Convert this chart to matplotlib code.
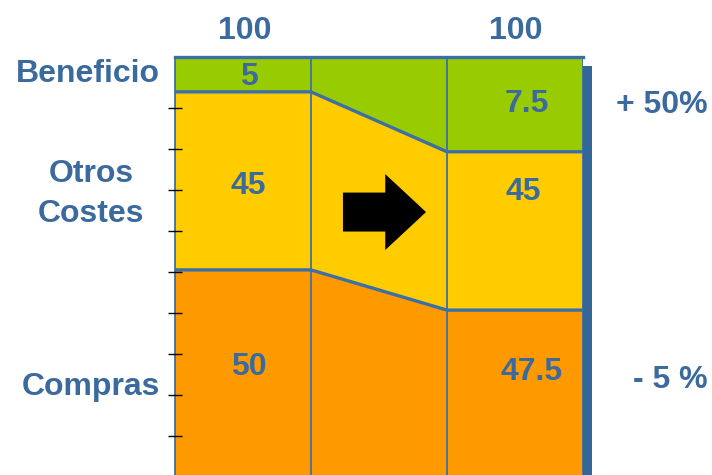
import matplotlib
matplotlib.use("Agg")
import matplotlib.pyplot as plt
import numpy as np

# values shown on the chart (bottom -> top: Compras, Otros Costes, Beneficio)
layers = ["Compras", "Otros\nCostes", "Beneficio"]
before = [50, 45, 5]
after = [47.5, 45, 7.5]
totals = [100, 100]
changes = ["+ 50%", "- 5 %"]

# schematic (not to scale) heights used in the original drawing, in tick units
before_drawn = [5.05, 4.34, 0.85]
after_drawn = [4.07, 3.86, 2.31]

colors = ["#FF9900", "#FFCC00", "#99CC00"]
edge = "#3C6FA6"
txt = "#3A6A9E"
font = dict(family="Liberation Sans", weight="bold", size=23, color=txt)

W, H = 712, 475
fig = plt.figure(figsize=(W / 100, H / 100), dpi=100)
ax = fig.add_axes([175 / W, 0, 408 / W, 418 / H])
ax.set_xlim(0, 3)
ax.set_ylim(0.05, 10.24)

lo_b = np.concatenate([[0], np.cumsum(before_drawn)])
lo_a = np.concatenate([[0], np.cumsum(after_drawn)])

for i, c in enumerate(colors):
    ax.bar(0.5, before_drawn[i], width=1, bottom=lo_b[i], color=c, linewidth=0)
    ax.bar(2.5, after_drawn[i], width=1, bottom=lo_a[i], color=c, linewidth=0)
    ax.fill_between([1, 2], [lo_b[i], lo_a[i]], [lo_b[i + 1], lo_a[i + 1]],
                    color=c, linewidth=0)

# layer boundaries
for k in (1, 2):
    ax.plot([0, 1, 2, 3], [lo_b[k], lo_b[k], lo_a[k], lo_a[k]],
            color=edge, lw=2.4, solid_joinstyle="miter")
ax.plot([0, 3], [lo_b[3], lo_b[3]], color=edge, lw=2.4, clip_on=False)
for x in (1, 2, 3):
    ax.axvline(x, color=edge, lw=1.3)

# arrow in the middle
ax.arrow(1.235, 6.46, 0.611, 0, width=0.95, head_width=1.85, head_length=0.30,
         length_includes_head=True, color="black", linewidth=0)

# value labels
before_pos = [(0.54, 2.68), (0.54, 7.10), (0.54, 9.76)]
after_pos = [(2.62, 2.56), (2.56, 6.95), (2.59, 9.10)]
for v, (x, y) in zip(before, before_pos):
    ax.text(x, y, f"{v:g}", ha="center", va="center", **font)
for v, (x, y) in zip(after, after_pos):
    ax.text(x, y, f"{v:g}", ha="center", va="center", **font)

# shadow on the right edge
ax.add_patch(plt.Rectangle((1.0, 0), 9 / 408, 0.978, transform=ax.transAxes,
                           color="#336699", clip_on=False, linewidth=0))

for s in ("top", "right", "bottom"):
    ax.spines[s].set_visible(False)
ax.spines["left"].set_color(edge)
ax.spines["left"].set_linewidth(1.3)
ax.set_axisbelow(False)
ax.set_xticks([])
ax.set_yticks(np.arange(1, 10))
ax.tick_params(axis="y", direction="inout", length=10, width=1,
               color="black", labelleft=False)


def ftext(px, py, s, **kw):
    fig.text(px / W, 1 - py / H, s, va="center", **font, **kw)


ftext(245, 31, str(totals[0]), ha="center")
ftext(516, 31, str(totals[1]), ha="center")
ftext(160, 74, layers[2], ha="right")
ftext(91, 194, layers[1], ha="center", linespacing=1.42)
ftext(160, 387, layers[0], ha="right")
ftext(708, 105, changes[0], ha="right")
ftext(708, 380, changes[1], ha="right")

fig.savefig("out.png", dpi=100)
